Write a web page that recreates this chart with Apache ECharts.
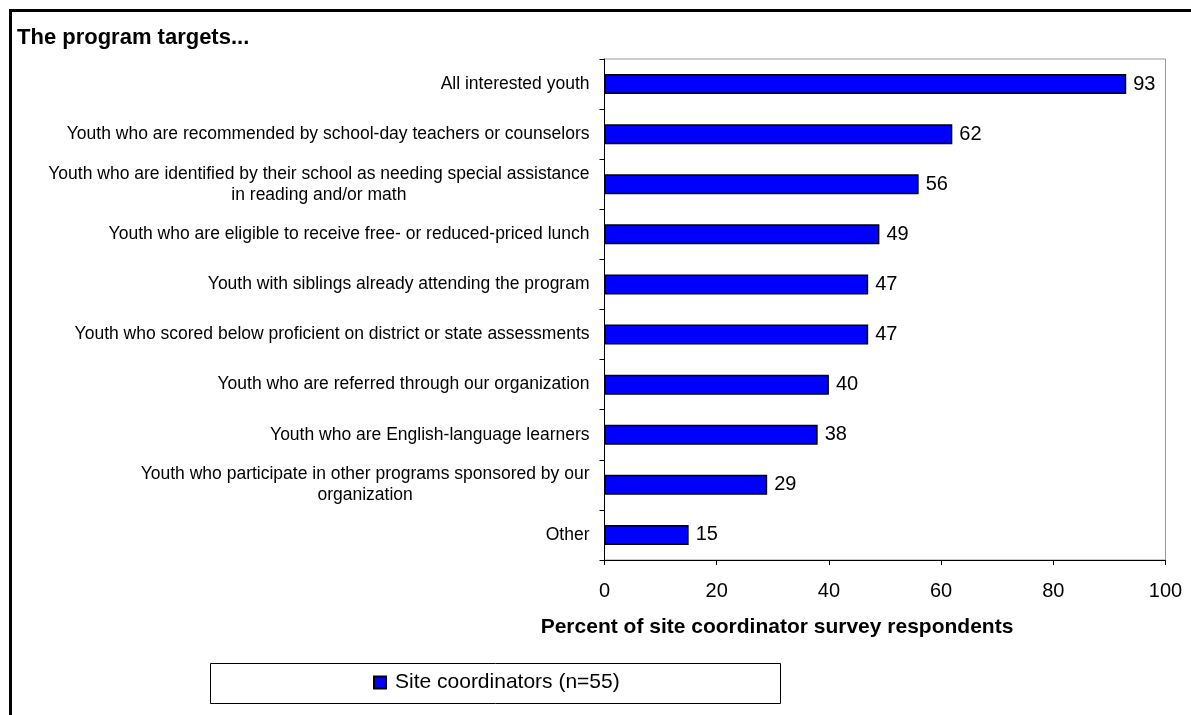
<!DOCTYPE html>
<html>
<head>
<meta charset="utf-8">
<title>The program targets...</title>
<script src="https://cdn.jsdelivr.net/npm/echarts@6/dist/echarts.min.js"></script>
<style>
  html, body { margin: 0; padding: 0; background: #fff; }
  #chart { width: 1191px; height: 715px; }
</style>
</head>
<body>
<div id="chart"></div>
<script>
// Target groups, top to bottom
const categories = [
  'All interested youth',
  'Youth who are recommended by school-day teachers or counselors',
  'Youth who are identified by their school as needing special assistance\nin reading and/or math',
  'Youth who are eligible to receive free- or reduced-priced lunch',
  'Youth with siblings already attending the program',
  'Youth who scored below proficient on district or state assessments',
  'Youth who are referred through our organization',
  'Youth who are English-language learners',
  'Youth who participate in other programs sponsored by our\norganization',
  'Other'
];

// Percent of site coordinators selecting each group
const siteCoordinators = [93, 62, 56, 49, 47, 47, 40, 38, 29, 15];

const seriesName = 'Site coordinators (n=55)';
const xTicks = { min: 0, max: 100, interval: 20 };

const FONT = 'Liberation Sans, Arial, sans-serif';

const chart = echarts.init(document.getElementById('chart'), null, { renderer: 'canvas' });

chart.setOption({
  backgroundColor: '#ffffff',
  animation: false,
  title: [
    {
      text: 'The program targets...',
      left: 17, top: 27,
      padding: 0,
      textStyle: { fontFamily: FONT, fontSize: 22, fontWeight: 'bold', color: '#000' }
    },
    {
      text: 'Percent of site coordinator survey respondents',
      left: 777, top: 617,
      textAlign: 'center',
      padding: 0,
      textStyle: { fontFamily: FONT, fontSize: 21, fontWeight: 'bold', color: '#000' }
    }
  ],
  graphic: [
    {
      // outer frame
      type: 'rect',
      shape: { x: 10.5, y: 10.5, width: 1200, height: 720 },
      style: { fill: 'none', stroke: '#000', lineWidth: 3 },
      silent: true
    },
    {
      // legend box
      type: 'rect',
      shape: { x: 210.5, y: 663.5, width: 570, height: 40 },
      style: { fill: '#fff', stroke: '#000', lineWidth: 1 },
      z: -1,
      silent: true
    }
  ],
  legend: {
    data: [seriesName],
    left: 373, top: 672,
    padding: 0,
    itemWidth: 12, itemHeight: 12, itemGap: 5,
    icon: 'rect',
    textStyle: { fontFamily: FONT, fontSize: 21, color: '#000', padding: [0, 0, 0, 4] }
  },
  grid: {
    left: 604.5, right: 25.5, top: 59, bottom: 155,
    show: true,
    borderColor: '#9a9a9a', borderWidth: 1,
    containLabel: false
  },
  xAxis: {
    type: 'value',
    min: xTicks.min, max: xTicks.max, interval: xTicks.interval,
    axisLine: { show: true, lineStyle: { color: '#000', width: 1 } },
    axisTick: { show: true, length: 5, lineStyle: { color: '#000' } },
    splitLine: { show: false },
    axisLabel: { margin: 21, fontFamily: FONT, fontSize: 20, color: '#000' }
  },
  yAxis: {
    type: 'category',
    data: categories,
    inverse: true,
    axisLine: { show: true, lineStyle: { color: '#000', width: 1 } },
    axisTick: { show: true, length: 5, lineStyle: { color: '#000' } },
    axisLabel: {
      margin: 15,
      fontFamily: FONT, fontSize: 17.5, color: '#000',
      lineHeight: 21,
      formatter: v => '{c|' + v.split('\n').join('}\n{c|') + '}',
      rich: { c: { align: 'center', fontFamily: FONT, fontSize: 17.5, color: '#000', lineHeight: 21 } }
    }
  },
  series: [
    {
      name: seriesName,
      type: 'bar',
      data: siteCoordinators,
      barCategoryGap: '60%',
      itemStyle: { color: '#0000ff', borderColor: '#000', borderWidth: 1.5 },
      label: {
        show: true, position: 'right', distance: 7,
        fontFamily: FONT, fontSize: 20, color: '#000'
      }
    }
  ]
});
</script>
</body>
</html>
